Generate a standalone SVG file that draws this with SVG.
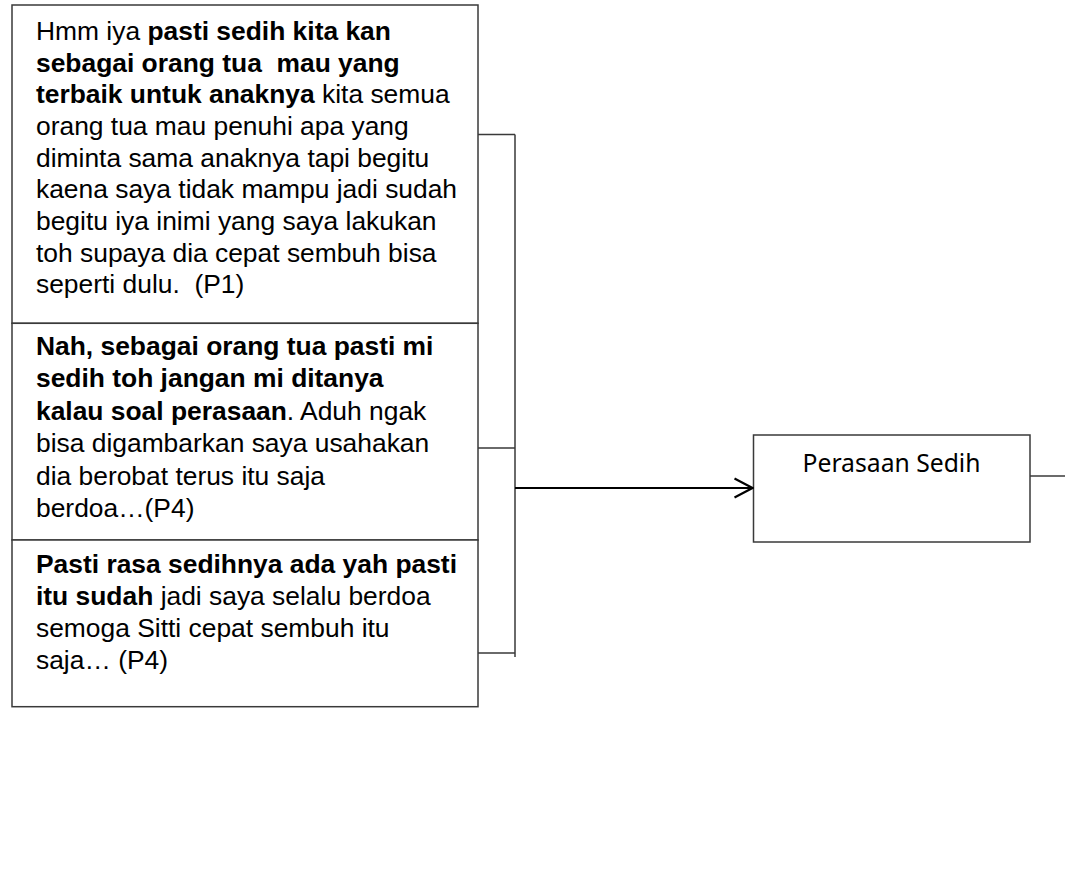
<svg xmlns="http://www.w3.org/2000/svg" width="1065" height="886" viewBox="0 0 1065 886">
  <style>
    .box { fill: #ffffff; stroke: #3a3a3a; stroke-width: 1.5; }
    .line { fill: none; stroke: #3a3a3a; stroke-width: 1.5; }
    .arrow { fill: none; stroke: #000000; stroke-width: 2.2; }
    .quote { font-family: "Liberation Sans", Arial, sans-serif; font-size: 26.4px; fill: #000000; white-space: pre; }
    .b { font-weight: bold; }
    .label { font-family: "Noto Sans", "Open Sans", sans-serif; font-size: 25px; fill: #000000; }
  </style>
  <defs>
    <marker id="open-arrow" markerWidth="20" markerHeight="22" refX="19" refY="11" orient="auto" markerUnits="userSpaceOnUse">
      <path d="M1,1.5 L19,11 L1,20.5" fill="none" stroke="#000000" stroke-width="2.2"/>
    </marker>
  </defs>
  <rect width="1065" height="886" fill="#ffffff"/>

  <g id="quote-p1">
    <rect class="box" x="12" y="5" width="466" height="318.3"/>
    <text class="quote" xml:space="preserve">
      <tspan x="36" y="40">Hmm iya <tspan class="b">pasti sedih kita kan</tspan></tspan>
      <tspan x="36" y="71.7" class="b">sebagai orang tua  mau yang</tspan>
      <tspan x="36" y="103.3"><tspan class="b">terbaik untuk anaknya</tspan> kita semua</tspan>
      <tspan x="36" y="135">orang tua mau penuhi apa yang</tspan>
      <tspan x="36" y="166.7">diminta sama anaknya tapi begitu</tspan>
      <tspan x="36" y="198.3">kaena saya tidak mampu jadi sudah</tspan>
      <tspan x="36" y="230">begitu iya inimi yang saya lakukan</tspan>
      <tspan x="36" y="261.7">toh supaya dia cepat sembuh bisa</tspan>
      <tspan x="36" y="293.3">seperti dulu.  (P1)</tspan>
    </text>
  </g>

  <g id="quote-p4a">
    <rect class="box" x="12" y="323.3" width="466" height="216.7"/>
    <text class="quote" xml:space="preserve">
      <tspan x="36" y="355" class="b">Nah, sebagai orang tua pasti mi</tspan>
      <tspan x="36" y="387.3" class="b">sedih toh jangan mi ditanya</tspan>
      <tspan x="36" y="420"><tspan class="b">kalau soal perasaan</tspan>. Aduh ngak</tspan>
      <tspan x="36" y="451.7">bisa digambarkan saya usahakan</tspan>
      <tspan x="36" y="485">dia berobat terus itu saja</tspan>
      <tspan x="36" y="517.3">berdoa…(P4)</tspan>
    </text>
  </g>

  <g id="quote-p4b">
    <rect class="box" x="12" y="540" width="466" height="166.7"/>
    <text class="quote" xml:space="preserve">
      <tspan x="36" y="573" class="b">Pasti rasa sedihnya ada yah pasti</tspan>
      <tspan x="36" y="605"><tspan class="b">itu sudah</tspan> jadi saya selalu berdoa</tspan>
      <tspan x="36" y="637">semoga Sitti cepat sembuh itu</tspan>
      <tspan x="36" y="668.5">saja… (P4)</tspan>
    </text>
  </g>

  <g id="perasaan-sedih">
    <rect class="box" x="753.5" y="435" width="276.5" height="107"/>
    <text class="label" x="891.5" y="472" text-anchor="middle" textLength="178" lengthAdjust="spacingAndGlyphs">Perasaan Sedih</text>
  </g>

  <g id="connectors">
    <path class="line" d="M478,134.5 H515 M478,448 H515 M478,653 H515 M515,134.5 V657"/>
    <line class="arrow" x1="515" y1="488" x2="752.5" y2="488" marker-end="url(#open-arrow)"/>
    <line class="line" x1="1030" y1="476" x2="1065" y2="476"/>
  </g>
</svg>
